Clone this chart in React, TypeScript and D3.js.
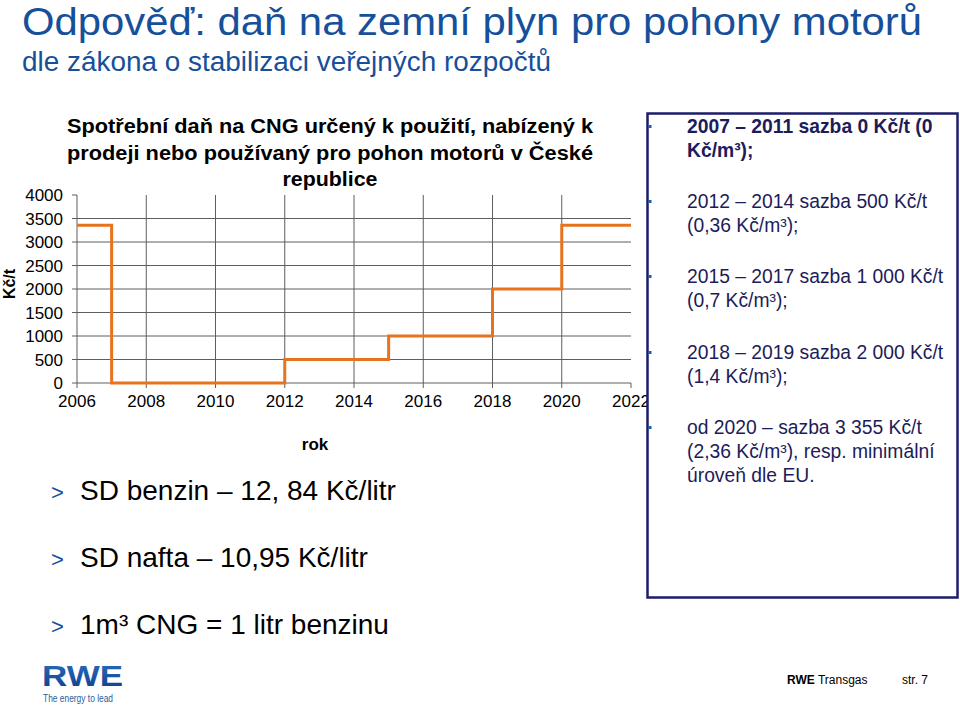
import React from "react";
import * as d3 from "d3";

const stepYears = [2006, 2007, 2012, 2015, 2018, 2020, 2022];
const stepRates = [3355, 0, 500, 1000, 2000, 3355, 3355];
const xTicks = [2006, 2008, 2010, 2012, 2014, 2016, 2018, 2020, 2022];
const yTicks = [0, 500, 1000, 1500, 2000, 2500, 3000, 3500, 4000];

const chartTitle = [
  "Spotřební daň na CNG určený k použití, nabízený k",
  "prodeji nebo používaný pro pohon motorů v České",
  "republice",
];
const chartTitleWidths = [526, 526, 95];

const boxItems = [
  { bold: true, lines: ["2007 – 2011 sazba 0 Kč/t (0", "Kč/m³);"] },
  { bold: false, lines: ["2012 – 2014 sazba 500 Kč/t", "(0,36 Kč/m³);"] },
  { bold: false, lines: ["2015 – 2017 sazba 1 000 Kč/t", "(0,7 Kč/m³);"] },
  { bold: false, lines: ["2018 – 2019 sazba 2 000 Kč/t", "(1,4 Kč/m³);"] },
  { bold: false, lines: ["od 2020 – sazba 3 355 Kč/t", "(2,36 Kč/m³), resp. minimální", "úroveň dle EU."] },
];

const leftBullets = ["SD benzin – 12, 84 Kč/litr", "SD nafta – 10,95 Kč/litr", "1m³ CNG = 1 litr benzinu"];

const FONT = "'Liberation Sans', Arial, sans-serif";
const BLUE = "#164f9a";
const NAVY = "#1c1c5a";

export default function App() {
  const x = d3.scaleLinear().domain([2006, 2022]).range([77, 631]);
  const y = d3.scaleLinear().domain([0, 4000]).range([383, 195]);
  const pts: [number, number][] = stepYears.map((yr, i) => [yr, stepRates[i]]);
  const line = d3
    .line<[number, number]>()
    .x((d) => x(d[0]))
    .y((d) => y(d[1]))
    .curve(d3.curveStepAfter);

  const boxStarts = [133, 208, 283, 359, 434];

  return (
    <svg
      width={960}
      height={707}
      style={{ position: "absolute", left: 0, top: 0, background: "#fff" }}
      fontFamily={FONT}
    >
      <defs>
        <linearGradient id="rweGrad" x1="0" y1="0" x2="0" y2="1">
          <stop offset="0" stopColor="#2d6fc0" />
          <stop offset="1" stopColor="#0a3f8c" />
        </linearGradient>
      </defs>
      <rect width={960} height={707} fill="#fff" />
      {/* Titles */}
      <text x={22} y={34.5} fontSize={38} fill={BLUE} textLength={900} lengthAdjust="spacingAndGlyphs">
        Odpověď: daň na zemní plyn pro pohony motorů
      </text>
      <text x={22} y={71} fontSize={27} fill={BLUE} textLength={529} lengthAdjust="spacingAndGlyphs">
        dle zákona o stabilizaci veřejných rozpočtů
      </text>

      {/* Chart title */}
      {chartTitle.map((t, i) => (
        <text
          key={i}
          x={330}
          y={133 + i * 26.5}
          fontSize={20}
          fontWeight="bold"
          textAnchor="middle"
          fill="#000"
          textLength={chartTitleWidths[i]}
          lengthAdjust="spacingAndGlyphs"
        >
          {t}
        </text>
      ))}

      {/* Grid */}
      {yTicks.filter((v) => v > 0 && v < 4000).map((v) => (
        <line key={"h" + v} x1={x(2006)} x2={x(2022)} y1={y(v)} y2={y(v)} stroke="#5e5e5e" strokeWidth={1} />
      ))}
      {xTicks.filter((v) => v > 2006 && v < 2022).map((v) => (
        <line key={"v" + v} x1={x(v)} x2={x(v)} y1={y(4000)} y2={y(0)} stroke="#5e5e5e" strokeWidth={1} />
      ))}
      {/* Axes */}
      <line x1={x(2006)} x2={x(2006)} y1={y(4000)} y2={y(0)} stroke="#5e5e5e" />
      <line x1={x(2006)} x2={x(2022)} y1={y(0)} y2={y(0)} stroke="#5e5e5e" />
      {yTicks.map((v) => (
        <g key={"yt" + v}>
          <line x1={x(2006) - 5} x2={x(2006)} y1={y(v)} y2={y(v)} stroke="#5e5e5e" />
          <text x={63} y={y(v) + 6} fontSize={17} textAnchor="end" fill="#000">
            {v}
          </text>
        </g>
      ))}
      {xTicks.map((v) => (
        <g key={"xt" + v}>
          <line x1={x(v)} x2={x(v)} y1={y(0)} y2={y(0) + 5} stroke="#5e5e5e" />
          <text x={x(v)} y={407} fontSize={17} textAnchor="middle" fill="#000">
            {v}
          </text>
        </g>
      ))}
      <path d={line(pts) || ""} fill="none" stroke="#e8731e" strokeWidth={3} />
      <text x={315} y={450} fontSize={17} fontWeight="bold" textAnchor="middle">
        rok
      </text>
      <text transform="translate(15,284) rotate(-90)" fontSize={16} fontWeight="bold" textAnchor="middle">
        Kč/t
      </text>

      {/* Right box */}
      <rect x={647.5} y={113.5} width={310} height={484} fill="#fff" stroke="#1c1c6e" strokeWidth={2.5} />
      {boxItems.map((it, i) => (
        <g key={"b" + i}>
          <rect x={648.5} y={boxStarts[i] - 8} width={3} height={3} fill="#1a5fb0" />
          {it.lines.map((l, j) => (
            <text
              key={j}
              x={687}
              y={boxStarts[i] + j * 24}
              fontSize={19.3}
              fontWeight={it.bold ? "bold" : "normal"}
              fill={NAVY}
            >
              {l}
            </text>
          ))}
        </g>
      ))}

      {/* Left bullets */}
      {leftBullets.map((t, i) => (
        <g key={"l" + i}>
          <text x={51} y={500 + i * 67} fontSize={22} fill={BLUE}>
            &gt;
          </text>
          <text x={80} y={500 + i * 67} fontSize={28} fill="#000">
            {t}
          </text>
        </g>
      ))}

      {/* Footer */}
      <text x={42} y={686} fontSize={30} fontWeight="bold" fill="url(#rweGrad)" textLength={81} lengthAdjust="spacingAndGlyphs">
        RWE
      </text>
      <text x={43} y={702} fontSize={10.5} fill="#2d5b9c" textLength={70} lengthAdjust="spacingAndGlyphs">
        The energy to lead
      </text>
      <text x={787} y={684} fontSize={12} fill="#000">
        <tspan fontWeight="bold">RWE</tspan> Transgas
      </text>
      <text x={902} y={684} fontSize={12} fill="#000">
        str. 7
      </text>
    </svg>
  );
}
